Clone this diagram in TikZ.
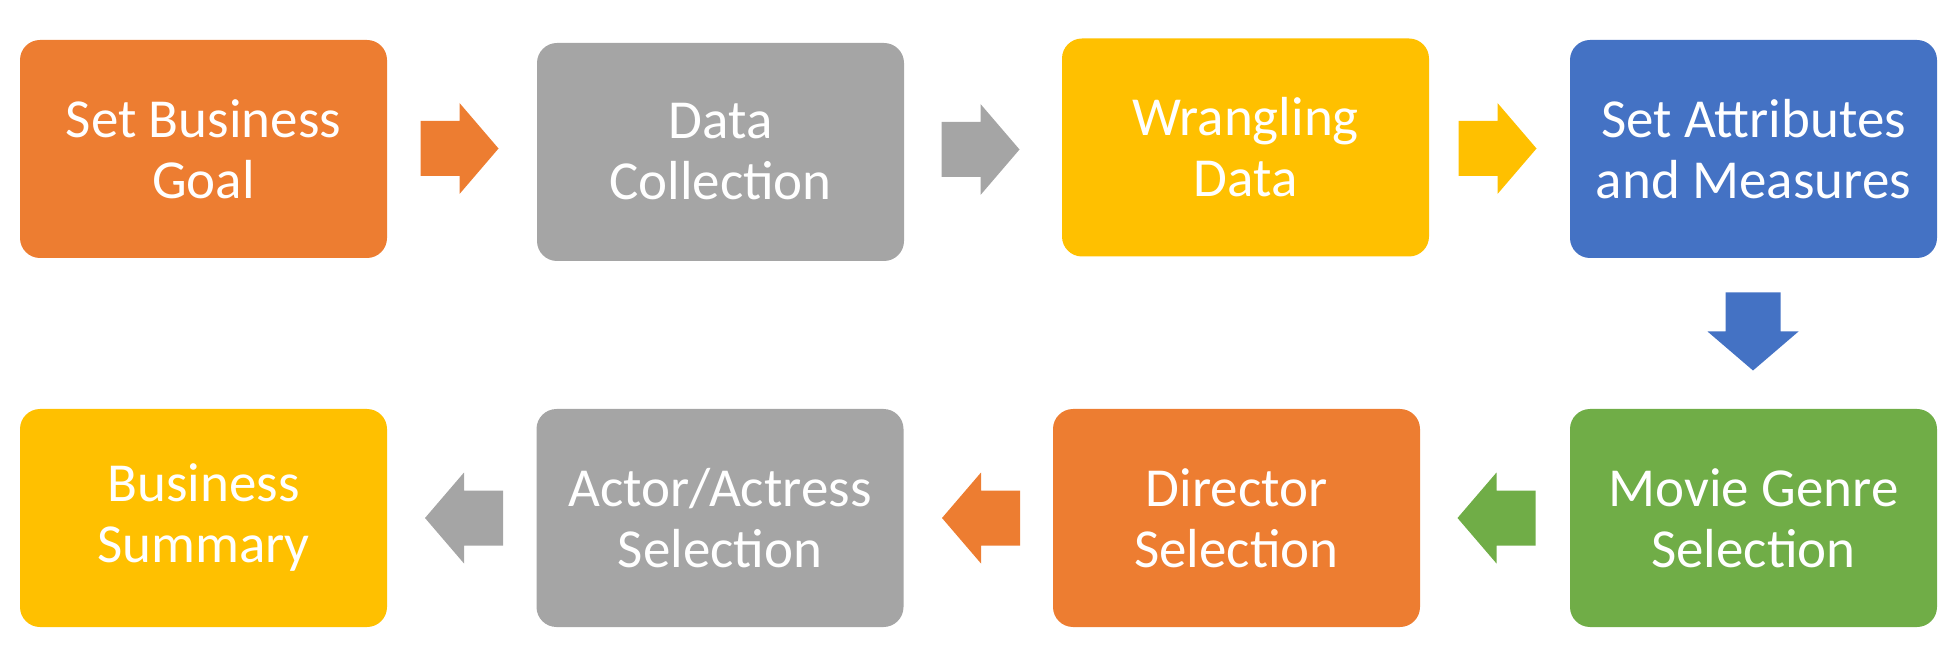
\documentclass[tikz,border=0pt]{standalone}
\usepackage{fontspec}
\setmainfont{Carlito}
\definecolor{oc}{HTML}{ED7D31}
\definecolor{gc}{HTML}{A5A5A5}
\definecolor{yc}{HTML}{FFC000}
\definecolor{bc}{HTML}{4472C4}
\definecolor{grc}{HTML}{70AD47}
\begin{document}
\begin{tikzpicture}[x=1pt,y=1pt,
  stepbox/.style={rectangle, rounded corners=20pt, minimum width=367pt, minimum height=218pt,
    inner sep=0pt, text=white, align=center, font=\fontsize{55}{61}\selectfont},
  barrow/.pic={\fill[#1] (-39,-27.5) -- (0,-27.5) -- (0,-45.5) -- (39,0) -- (0,45.5) -- (0,27.5) -- (-39,27.5) -- cycle;}
]
\useasboundingbox (0,0) rectangle (1957,654);
\node[stepbox, fill=oc] (b1) at (203.5,505) {Set Business\\Goal};
\node[stepbox, fill=gc] (b2) at (720.5,502) {Data\\Collection};
\node[stepbox, fill=yc] (b3) at (1245.5,506.5) {Wrangling\\Data};
\node[stepbox, fill=bc] (b4) at (1753.5,505) {Set Attributes\\and Measures};
\node[stepbox, fill=grc] (b8) at (1753.5,136) {Movie Genre\\Selection};
\node[stepbox, fill=oc] (b7) at (1236.5,136) {Director\\Selection};
\node[stepbox, fill=gc] (b6) at (720,136) {Actor/Actress\\Selection};
\node[stepbox, fill=yc] (b5) at (203.5,136) {Business\\Summary};
% block arrows between boxes
\coordinate (m1) at (459.5,505.5);
\coordinate (m2) at (980.5,504.5);
\coordinate (m3) at (1497.5,505.5);
\coordinate (m4) at (1753,322.5);
\coordinate (m5) at (1496.5,136);
\coordinate (m6) at (981,136);
\coordinate (m7) at (464,136);
\pic at (m1) {barrow=oc};
\pic at (m2) {barrow=gc};
\pic at (m3) {barrow=yc};
\pic[rotate=-90] at (m4) {barrow=bc};
\pic[rotate=180] at (m5) {barrow=grc};
\pic[rotate=180] at (m6) {barrow=oc};
\pic[rotate=180] at (m7) {barrow=gc};
\end{tikzpicture}
\end{document}
